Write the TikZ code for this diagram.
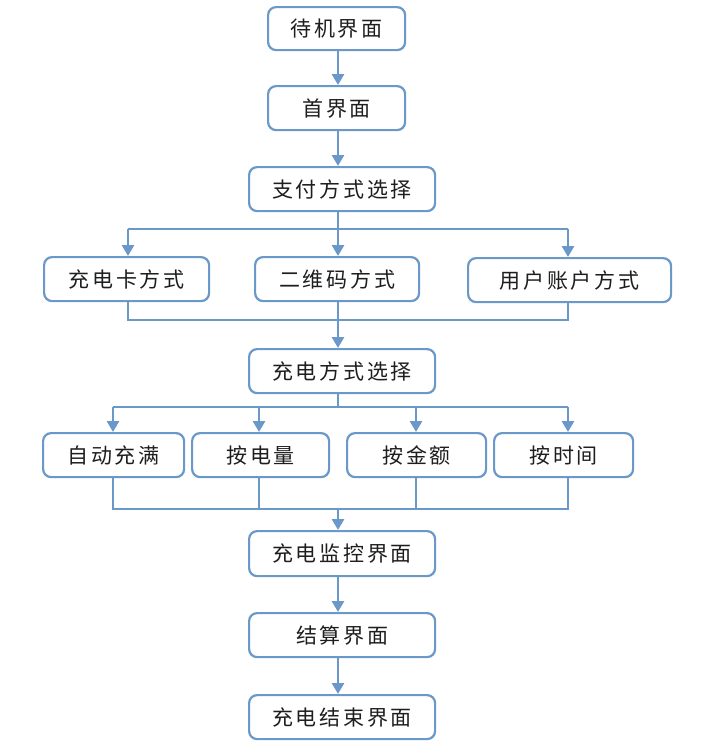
\documentclass[tikz,border=0pt]{standalone}
\usepackage{fontspec}
\newfontfamily\cjk[LetterSpace=13]{Noto Sans CJK SC}
\usetikzlibrary{arrows.meta}
\definecolor{lineblue}{RGB}{106,152,200}
\definecolor{txt}{RGB}{30,30,30}
\begin{document}
\begin{tikzpicture}[x=1pt,y=-1pt,
  box/.style={draw=lineblue, line width=2.2pt, rounded corners=8pt, fill=white,
    text=txt, font=\cjk\fontsize{21}{21}\selectfont, inner sep=0pt,
    anchor=north west},
  conn/.style={draw=lineblue, line width=2.8pt, line join=miter},
  arr/.style={conn, -{Triangle[width=12pt,length=11pt]}}]
\useasboundingbox[fill=white] (0,0) rectangle (710,750);

\node[box, minimum width=137pt, minimum height=43pt] (b1) at (267,6) {待机界面};
\node[box, minimum width=137pt, minimum height=44pt] (b2) at (267,85) {首界面};
\node[box, minimum width=186pt, minimum height=44pt] (b3) at (248,166) {支付方式选择};
\node[box, minimum width=165pt, minimum height=44pt] (c1) at (43,256) {充电卡方式};
\node[box, minimum width=164pt, minimum height=44pt] (c2) at (254,256) {二维码方式};
\node[box, minimum width=203pt, minimum height=44pt] (c3) at (467,257) {用户账户方式};
\node[box, minimum width=186pt, minimum height=44pt] (b4) at (248,348) {充电方式选择};
\node[box, minimum width=141pt, minimum height=44pt] (d1) at (42,432) {自动充满};
\node[box, minimum width=137pt, minimum height=44pt] (d2) at (191,432) {按电量};
\node[box, minimum width=139pt, minimum height=44pt] (d3) at (346,432) {按金额};
\node[box, minimum width=139pt, minimum height=44pt] (d4) at (493,432) {按时间};
\node[box, minimum width=186pt, minimum height=45pt] (b5) at (248,530) {充电监控界面};
\node[box, minimum width=186pt, minimum height=44pt] (b6) at (248,612) {结算界面};
\node[box, minimum width=186pt, minimum height=44pt] (b7) at (248,694) {充电结束界面};

\coordinate (cx) at (338,0);
% top chain
\draw[arr] (b1.south -| cx) -- (b2.north -| cx);
\draw[arr] (b2.south -| cx) -- (b3.north -| cx);

% split 1
\coordinate (s1l) at (128,229);
\coordinate (s1r) at (568,229);
\draw[conn] (s1l) -- (s1r);
\draw[arr] (s1l) -- (c1.north -| s1l);
\draw[arr] (b3.south -| cx) -- (c2.north -| cx);
\draw[arr] (s1r) -- (c3.north -| s1r);

% merge 1
\coordinate (m1l) at (128,320);
\coordinate (m1r) at (568,320);
\coordinate (m1c) at (338,320);
\draw[conn] (c1.south -| m1l) -- (m1l) -- (m1r) -- (c3.south -| m1r);
\draw[conn] (c2.south -| cx) -- (m1c);
\draw[arr] (m1c) -- (b4.north -| cx);

% split 2
\coordinate (s2c) at (338,407);
\coordinate (s2a) at (113,407);
\coordinate (s2b) at (259,407);
\coordinate (s2d) at (416,407);
\coordinate (s2e) at (568,407);
\draw[conn] (b4.south -| cx) -- (s2c);
\draw[conn] (s2a) -- (s2e);
\draw[arr] (s2a) -- (d1.north -| s2a);
\draw[arr] (s2b) -- (d2.north -| s2b);
\draw[arr] (s2d) -- (d3.north -| s2d);
\draw[arr] (s2e) -- (d4.north -| s2e);

% merge 2
\coordinate (m2a) at (113,509);
\coordinate (m2b) at (259,509);
\coordinate (m2c) at (338,509);
\coordinate (m2d) at (416,509);
\coordinate (m2e) at (568,509);
\draw[conn] (d1.south -| m2a) -- (m2a) -- (m2e) -- (d4.south -| m2e);
\draw[conn] (d2.south -| m2b) -- (m2b);
\draw[conn] (d3.south -| m2d) -- (m2d);
\draw[arr] (m2c) -- (b5.north -| cx);

% bottom chain
\draw[arr] (b5.south -| cx) -- (b6.north -| cx);
\draw[arr] (b6.south -| cx) -- (b7.north -| cx);
\end{tikzpicture}
\end{document}
